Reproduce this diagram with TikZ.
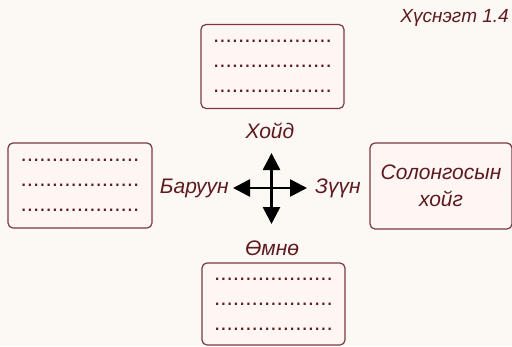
\documentclass[tikz,border=0pt]{standalone}
\usepackage{fontspec}
\setmainfont{Liberation Sans}
\usetikzlibrary{arrows.meta}
\definecolor{bg}{HTML}{FCF8F3}
\definecolor{boxfill}{HTML}{FDF6F3}
\definecolor{boxline}{HTML}{7B3A40}
\definecolor{maroon}{HTML}{5E1A20}
\tikzset{
  box/.style={draw=boxline, fill=boxfill, line width=1.2pt, rounded corners=5pt,
    minimum width=143pt, minimum height=84pt, align=center, text=maroon,
    inner sep=0pt, font=\fontsize{22.5}{25}\selectfont},
  lbl/.style={text=maroon, inner sep=0pt, font=\fontsize{21}{26}\selectfont\itshape},
  dirarrow/.style={line width=2.6pt, -{Triangle[length=17pt,width=17pt]}, black},
}
\newcommand{\dotrow}{...................}
\begin{document}
\begin{tikzpicture}[x=1pt,y=-1pt]
\fill[bg] (0,0) rectangle (512,346);
\useasboundingbox (0,0) rectangle (512,346);
% boxes
\node[box] (topbox) at (272.5,66.5) {\dotrow\\\dotrow\\\dotrow};
\node[box, minimum width=144pt, minimum height=85pt] (leftbox) at (80,185.5) {\dotrow\\\dotrow\\\dotrow};
\node[box, minimum width=142pt, minimum height=86pt, font=\fontsize{21}{27}\selectfont\itshape] (rightbox) at (441,186) {Солонгосын\\хойг};
\node[box, minimum height=82pt] (botbox) at (273.5,304) {\dotrow\\\dotrow\\\dotrow};
% labels
\node[lbl, anchor=base east, font=\fontsize{19}{26}\selectfont\itshape] (title) at (509,22) {Хүснэгт 1.4};
\node[lbl, anchor=base] (north) at (270,138) {Хойд};
\node[lbl, anchor=base east] (west) at (229,193) {Баруун};
\node[lbl, anchor=base west] (east) at (315,193) {Зүүн};
\node[lbl, anchor=base] (south) at (272,255) {Өмнө};
% cross arrows
\coordinate (c) at (271.5,188);
\coordinate (cn) at (271.5,153);
\coordinate (cs) at (271.5,224);
\coordinate (cw) at (233,188);
\coordinate (ce) at (307,188);
\draw[dirarrow] (c) -- (cn);
\draw[dirarrow] (c) -- (cs);
\draw[dirarrow] (c) -- (cw);
\draw[dirarrow] (c) -- (ce);
\end{tikzpicture}
\end{document}
